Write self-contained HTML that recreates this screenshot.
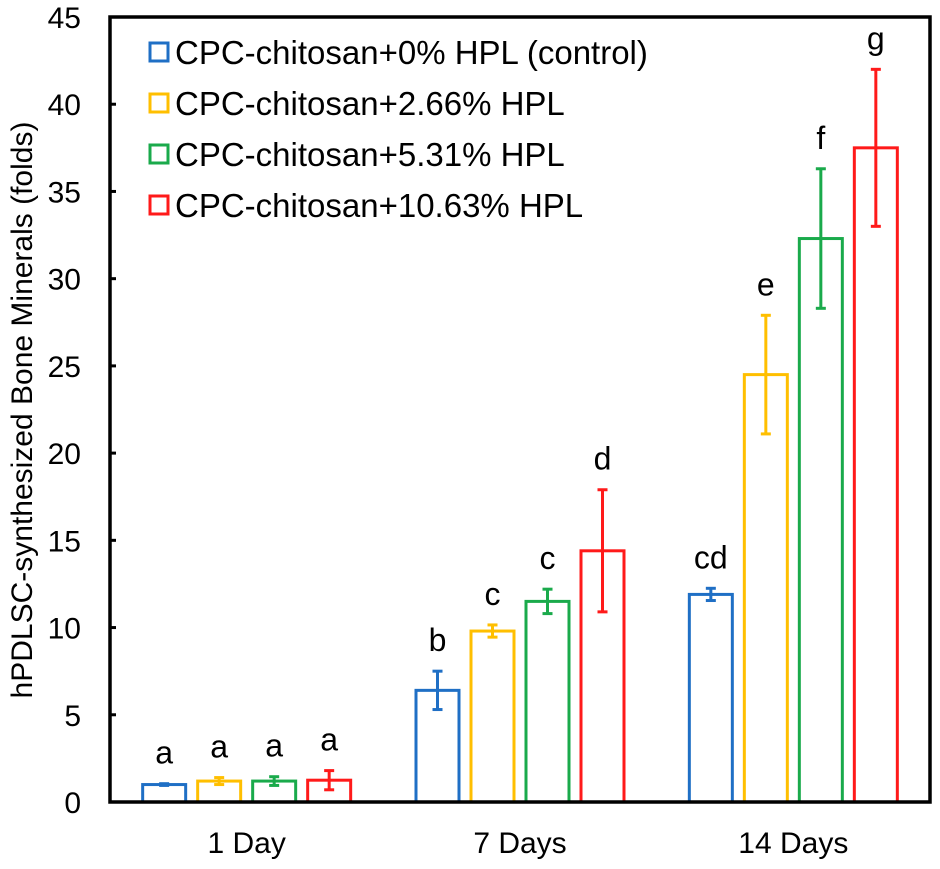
<!DOCTYPE html>
<html><head><meta charset="utf-8"><style>
body{margin:0;background:#fff}
svg text{font-family:"Liberation Sans",Arial,sans-serif;fill:#000}
</style></head><body>
<svg id="chart" width="940" height="864" xmlns="http://www.w3.org/2000/svg"></svg>
<script>
const categories=["1 Day","7 Days","14 Days"];
const seriesNames=["CPC-chitosan+0% HPL (control)","CPC-chitosan+2.66% HPL","CPC-chitosan+5.31% HPL","CPC-chitosan+10.63% HPL"];
const s0=[1.0,6.4,11.9];
const s1=[1.2,9.8,24.5];
const s2=[1.2,11.5,32.3];
const s3=[1.25,14.4,37.5];
const e0=[0.05,1.1,0.35];
const e1=[0.2,0.35,3.4];
const e2=[0.25,0.7,4.0];
const e3=[0.55,3.5,4.5];
const letters0=["a","b","cd"];
const letters1=["a","c","e"];
const letters2=["a","c","f"];
const letters3=["a","d","g"];
const yTicks=[0,5,10,15,20,25,30,35,40,45];
const colors=["#1f6fc5","#ffbf00","#1aaa4b","#ff1a1a"];
const series=[s0,s1,s2,s3],errs=[e0,e1,e2,e3],lets=[letters0,letters1,letters2,letters3];
const L=110,R=930,T=17,B=802,yMax=45;
const y=v=>B-(v/yMax)*(B-T);
const cw=(R-L)/categories.length;
const cx=i=>L+cw*(i+0.5);
const bw=43,pitch=55;
const bx=(i,s)=>cx(i)+(s-1.5)*pitch-bw/2;
const svg=document.getElementById('chart');
const NS="http://www.w3.org/2000/svg";
function mk(tag,attrs,parent){const e=document.createElementNS(NS,tag);for(const k in attrs)e.setAttribute(k,attrs[k]);(parent||svg).appendChild(e);return e;}
series.forEach((arr,s)=>{arr.forEach((v,i)=>{
 const x=bx(i,s);
 const r=mk('rect',{x:x,y:y(v),width:bw,height:B-y(v),fill:'none',stroke:colors[s],'stroke-width':3});
 
 
 const c=x+bw/2,hi=y(v+errs[s][i]),lo=y(v-errs[s][i]);
 const g=mk('g',{stroke:colors[s],'stroke-width':3});
 
 
 mk('line',{x1:c,x2:c,y1:hi,y2:lo},g);
 mk('line',{x1:c-5,x2:c+5,y1:hi,y2:hi},g);
 mk('line',{x1:c-5,x2:c+5,y1:lo,y2:lo},g);
 const t=mk('text',{x:c,y:hi-20,'text-anchor':'middle','font-size':32});
 t.textContent=lets[s][i];
 
 
});});
const f=mk('rect',{x:L,y:T,width:R-L,height:B-T,fill:'none',stroke:'#000','stroke-width':3.5});


yTicks.forEach(v=>{
 mk('line',{x1:L,x2:L+6,y1:y(v),y2:y(v),stroke:'#000','stroke-width':3});
 const t=mk('text',{x:81,y:y(v)+11,'text-anchor':'end','font-size':30});
 t.textContent=v;
 
 
});
categories.forEach((c,i)=>{
 const t=mk('text',{x:cx(i),y:853,'text-anchor':'middle','font-size':30});
 t.textContent=c;
 
 
});
const yt=mk('text',{x:0,y:0,'text-anchor':'middle','font-size':30,transform:'translate(32,410) rotate(-90)'});
yt.textContent='hPDLSC-synthesized Bone Minerals (folds)';


seriesNames.forEach((n,s)=>{
 const cy=52+s*51;
 const g=mk('g',{});
 
 
 mk('rect',{x:150,y:cy-9,width:18,height:18,fill:'none',stroke:colors[s],'stroke-width':3},g);
 const t=mk('text',{x:175,y:cy+12,'font-size':33},g);
 t.textContent=n;
});
</script>
</body></html>
